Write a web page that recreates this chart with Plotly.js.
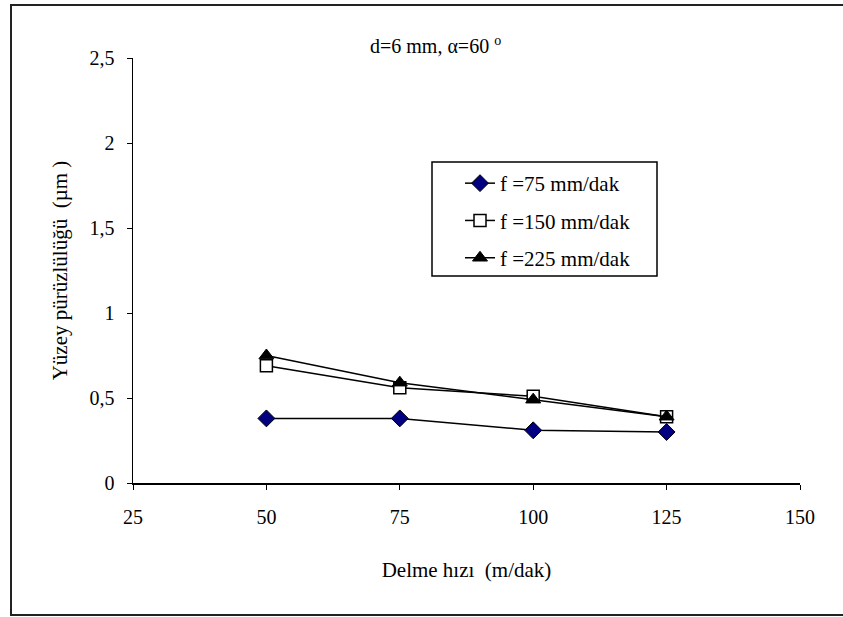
<!DOCTYPE html>
<html>
<head>
<meta charset="utf-8">
<script src="https://cdn.plot.ly/plotly-3.0.1.min.js"></script>
<style>html,body{margin:0;padding:0;background:#fff;}#chart{width:843px;height:617px;}</style>
</head>
<body>
<div id="chart"></div>
<script>
const speeds = [50, 75, 100, 125];
const f75 = [0.38, 0.38, 0.31, 0.30];
const f150 = [0.69, 0.56, 0.51, 0.39];
const f225 = [0.75, 0.59, 0.49, 0.39];
const seriesNames = ['f =75 mm/dak', 'f =150 mm/dak', 'f =225 mm/dak'];
const xTicks = [25, 50, 75, 100, 125, 150];
const yTicks = [0, 0.5, 1, 1.5, 2, 2.5];

const fam = 'Liberation Serif';
const F = (s) => ({family: fam, size: s, color: '#000'});
const line = {color: '#000', width: 1.5};

const traces = [
  {x: speeds, y: f75, name: seriesNames[0], legendgroup: 'a', mode: 'lines+markers', line: line,
   marker: {symbol: 'diamond', size: 13, color: '#000080', line: {color: '#000', width: 1}}},
  {x: speeds, y: f150, name: seriesNames[1], legendgroup: 'b', mode: 'lines+markers', line: line,
   marker: {symbol: 'square', size: 12, color: '#fff', line: {color: '#000', width: 1.5}}},
  {x: speeds, y: f225, name: seriesNames[2], legendgroup: 'c', mode: 'lines+markers', line: line,
   marker: {symbol: 'triangle-up', size: 13, color: '#000', line: {color: '#000', width: 1}}}
];

const L = 133, T = 58, PW = 667, PH = 425;
const px = (x) => (x - L) / PW;
const py = (y) => (T + PH - y) / PH;

const layout = {
  width: 843, height: 617,
  margin: {l: 133, r: 43, t: 58, b: 134},
  paper_bgcolor: '#fff', plot_bgcolor: '#fff',
  separators: ',.',
  font: F(20),
  showlegend: true,
  legend: {x: px(460), y: py(163), xanchor: 'left', yanchor: 'top',
           borderwidth: 0, bgcolor: 'rgba(0,0,0,0)',
           font: F(21), tracegroupgap: 7},
  xaxis: {range: [25, 150], tickvals: xTicks, showgrid: false, zeroline: false,
          showline: true, linecolor: '#000', linewidth: 2, ticks: 'outside', ticklen: 5,
          tickcolor: '#000', tickfont: F(20), ticklabelstandoff: 10,
          title: {text: 'Delme hızı  (m/dak)', font: F(21), standoff: 35}},
  yaxis: {range: [0, 2.5], tickvals: yTicks, showgrid: false, zeroline: false,
          showline: true, linecolor: '#000', linewidth: 1.5, ticks: 'outside', ticklen: 5,
          tickcolor: '#000', tickfont: F(20), ticklabelstandoff: 8,
          title: {text: 'Yüzey pürüzlülüğü  (µm )', font: F(21), standoff: 16}},
  annotations: [{text: 'd=6 mm, α=60 <sup>o</sup>', xref: 'paper', yref: 'paper',
                 x: px(435), y: py(45), xanchor: 'center', yanchor: 'middle', showarrow: false,
                 font: F(20)}],
  shapes: [
    {type: 'rect', xref: 'paper', yref: 'paper',
     x0: px(11), x1: px(846), y0: py(615), y1: py(5),
     line: {color: '#222', width: 2}},
    {type: 'rect', xref: 'paper', yref: 'paper',
     x0: px(432), x1: px(657), y0: py(276), y1: py(162),
     line: {color: '#000', width: 1.5}, fillcolor: 'rgba(0,0,0,0)'}
  ]
};

Plotly.newPlot('chart', traces, layout, {displayModeBar: false, staticPlot: true});
</script>
</body>
</html>
